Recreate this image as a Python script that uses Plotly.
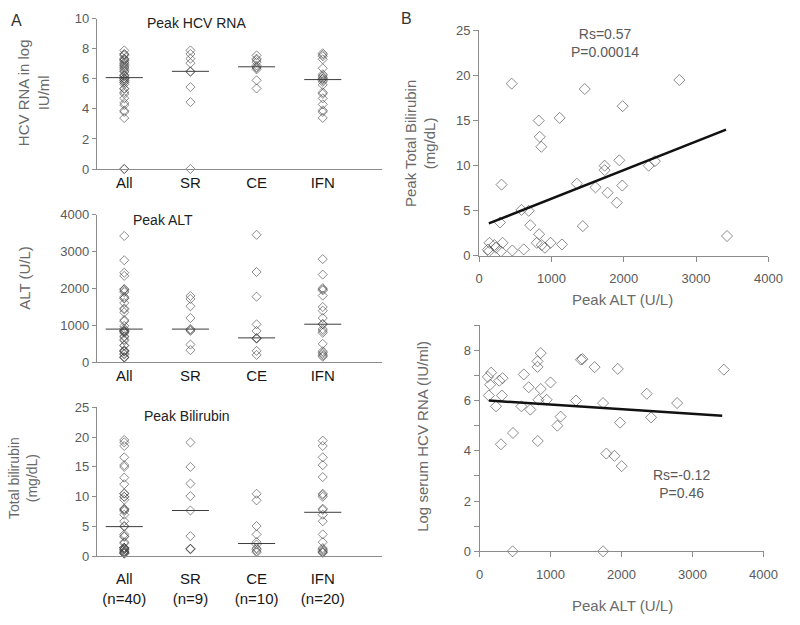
import plotly.graph_objects as go

W, H = 800, 625
def px(x): return x / W
def py(y): return 1 - y / H

FONT = "Liberation Sans, Arial, sans-serif"
GRAY_TXT = "#5a5a5a"
TITLE_GRAY = "#6a6a6a"
AXIS_COL = "#8c8c8c"
MARK_COL = "rgba(70,70,70,0.62)"

# ---------------- data ----------------
groups = ["All", "SR", "CE", "IFN"]
groups_n = ["All<br>(n=40)", "SR<br>(n=9)", "CE<br>(n=10)", "IFN<br>(n=20)"]
cat_pos = [0, 1, 2, 3]

# Panel B (top): Peak ALT vs Peak Total Bilirubin
alt_b1 = [451, 1461, 2769, 1985, 1114, 825, 839, 861, 1736, 1736, 1939, 2345, 2431,
          311, 1353, 1610, 1980, 1777, 1903, 586, 686, 289, 708, 1434, 830, 3428,
          798, 988, 1146, 866, 911, 618, 460, 325, 302, 144, 212, 122, 135, 234]
bili_b1 = [19.1, 18.5, 19.5, 16.6, 15.3, 15.0, 13.2, 12.1, 10.0, 9.5, 10.6, 10.0, 10.5,
           7.9, 8.0, 7.6, 7.8, 7.0, 5.9, 5.1, 5.0, 3.7, 3.4, 3.3, 2.4, 2.2,
           1.45, 1.45, 1.27, 1.2, 0.9, 0.72, 0.6, 1.45, 0.5, 1.45, 1.2, 0.7, 0.5, 0.9]
fit1_x = [135, 3414]
fit1_y = [3.6, 14.0]

# Panel B (bottom): Peak ALT vs log serum HCV RNA
alt_b2 = [862, 816, 816, 1450, 1427, 1620, 1947, 3441, 163, 117, 324, 278, 623, 149,
          1000, 692, 862, 131, 315, 2356, 830, 945, 1358, 1740, 2783, 232, 590, 715,
          1142, 2416, 1979, 1096, 471, 301, 820, 1786, 1900, 2002, 466, 1740]
hcv_b2 = [7.89, 7.56, 7.34, 7.65, 7.63, 7.33, 7.26, 7.23, 7.11, 6.94, 6.89, 6.79, 7.04, 6.63,
          6.72, 6.53, 6.46, 6.2, 6.2, 6.27, 6.03, 6.03, 6.0, 5.9, 5.9, 5.77, 5.77, 5.64,
          5.36, 5.33, 5.12, 5.0, 4.71, 4.26, 4.39, 3.89, 3.8, 3.39, 0.0, 0.0]
fit2_x = [131, 3418]
fit2_y = [6.0, 5.4]

# Panel A: Peak HCV RNA by group
hcv_all = hcv_b2
hcv_sr = [7.89, 7.65, 7.34, 7.04, 6.5, 6.46, 5.45, 4.45, 0.0]
hcv_ce = [7.56, 7.34, 7.26, 7.11, 6.89, 6.79, 6.72, 6.63, 5.9, 5.36]
hcv_ifn = [7.7, 7.6, 7.5, 7.3, 6.7, 6.3, 6.2, 6.1, 6.0, 6.0, 5.9, 5.8, 5.6, 5.1, 5.0,
           4.7, 4.3, 3.9, 3.8, 3.4]
hcv_median = [6.08, 6.5, 6.8, 5.95]

# Panel A: Peak ALT by group
alt_all = alt_b1
alt_sr = [1800, 1720, 1520, 1200, 900, 880, 850, 480, 330]
alt_ce = [3460, 2450, 1780, 1030, 850, 660, 650, 640, 310, 200]
alt_ifn = [2800, 2380, 2010, 1980, 1950, 1810, 1500, 1400, 1200, 1040, 1030, 900, 850,
           800, 500, 300, 260, 220, 180, 150]
alt_median = [900, 900, 662, 1033]

# Panel A: Peak Bilirubin by group
bili_all = bili_b1
bili_sr = [19.1, 15.0, 12.2, 10.1, 7.7, 3.4, 1.3, 1.3, 1.2]
bili_ce = [10.5, 9.4, 5.1, 3.7, 2.4, 2.0, 1.4, 1.2, 0.9, 0.7]
bili_ifn = [19.4, 18.5, 16.6, 15.3, 13.3, 10.5, 10.3, 10.0, 8.0, 7.8, 7.0, 5.9, 3.7,
            2.4, 1.4, 1.2, 1.0, 0.8, 0.7, 0.6]
bili_median = [5.0, 7.7, 2.17, 7.4]

# ---------------- figure ----------------
fig = go.Figure()

def add_strip(values_by_group, medians, xa, ya):
    for pos, vals in zip(cat_pos, values_by_group):
        fig.add_trace(go.Scatter(
            x=[pos] * len(vals), y=vals, mode="markers", xaxis=xa, yaxis=ya,
            marker=dict(symbol="diamond-open", size=7, color=MARK_COL,
                        line=dict(width=1, color=MARK_COL)),
            cliponaxis=False, showlegend=False, hoverinfo="y"))
    hx, hy = [], []
    for pos, m in zip(cat_pos, medians):
        hx += [pos - 0.28, pos + 0.28, None]
        hy += [m, m, None]
    fig.add_trace(go.Scatter(x=hx, y=hy, mode="lines", xaxis=xa, yaxis=ya,
                             line=dict(color="#3c3c3c", width=1),
                             showlegend=False, hoverinfo="skip", cliponaxis=False))

add_strip([hcv_all, hcv_sr, hcv_ce, hcv_ifn], hcv_median, "x", "y")
add_strip([alt_all, alt_sr, alt_ce, alt_ifn], alt_median, "x2", "y2")
add_strip([bili_all, bili_sr, bili_ce, bili_ifn], bili_median, "x3", "y3")

def add_scatter(xv, yv, fx, fy, xa, ya):
    fig.add_trace(go.Scatter(
        x=xv, y=yv, mode="markers", xaxis=xa, yaxis=ya,
        marker=dict(symbol="diamond-open", size=8.5, color=MARK_COL,
                    line=dict(width=1, color=MARK_COL)),
        cliponaxis=False, showlegend=False))
    fig.add_trace(go.Scatter(x=fx, y=fy, mode="lines", xaxis=xa, yaxis=ya,
                             line=dict(color="#111111", width=2.5),
                             showlegend=False, hoverinfo="skip"))

add_scatter(alt_b1, bili_b1, fit1_x, fit1_y, "x4", "y4")
add_scatter(alt_b2, hcv_b2, fit2_x, fit2_y, "x5", "y5")

tickfont = dict(family=FONT, size=13, color=GRAY_TXT)
catfont = dict(family=FONT, size=15, color="#161616")

def yax(dom, rng, dtick, anchor, tickvals=None, ticktext=None, ticklen=4):
    d = dict(domain=dom, range=rng, anchor=anchor, showline=True, linecolor=AXIS_COL,
             linewidth=1, ticks="outside", ticklen=ticklen, tickcolor=AXIS_COL,
             showgrid=False, zeroline=False, tickfont=tickfont, fixedrange=True)
    if tickvals is not None:
        d.update(tickmode="array", tickvals=tickvals, ticktext=ticktext)
    else:
        d.update(dtick=dtick, tick0=0)
    return d

def xcat(dom, anchor, labels, standoff=0):
    return dict(domain=dom, range=[-0.414, 3.9], anchor=anchor, showline=True,
                linecolor=AXIS_COL, linewidth=1, ticks="", showgrid=False,
                zeroline=False, tickmode="array", tickvals=cat_pos, ticktext=labels,
                tickfont=catfont, ticklabelstandoff=standoff, fixedrange=True)

def xnum(dom, anchor):
    return dict(domain=dom, range=[0, 4000], anchor=anchor, showline=True,
                linecolor=AXIS_COL, linewidth=1, ticks="outside", ticklen=5,
                tickcolor=AXIS_COL, showgrid=False, zeroline=False, dtick=1000,
                tick0=0, tickfont=tickfont, ticklabelstandoff=6, fixedrange=True)

xA = [px(95), px(387)]
fig.update_layout(
    width=W, height=H, margin=dict(l=0, r=0, t=0, b=0),
    paper_bgcolor="white", plot_bgcolor="white", showlegend=False,
    font=dict(family=FONT, color=GRAY_TXT),
    xaxis=xcat(xA, "y", groups),
    yaxis=yax([py(166), py(12)], [0, 10], 2, "x"),
    xaxis2=xcat(xA, "y2", groups),
    yaxis2=yax([py(364), py(213)], [0, 4000], 1000, "x2"),
    xaxis3=xcat(xA, "y3", groups_n, standoff=9),
    yaxis3=yax([py(563), py(410)], [0, 25], 5, "x3"),
    xaxis4=xnum([px(486), px(782)], "y4"),
    yaxis4=yax([py(255), py(24)], [0, 25], 5, "x4", ticklen=5),
    xaxis5=xnum([px(486.5), px(777)], "y5"),
    yaxis5=yax([py(557.7), py(326)], [0, 9], 1, "x5",
               tickvals=list(range(10)),
               ticktext=["0", "", "2", "", "4", "", "6", "", "8", ""], ticklen=5),
)

def ann(text, x, y, size=14, color=GRAY_TXT, angle=0, xanchor="center"):
    fig.add_annotation(text=text, x=px(x), y=py(y), xref="paper", yref="paper",
                       showarrow=False, textangle=angle, xanchor=xanchor,
                       yanchor="middle", font=dict(family=FONT, size=size, color=color))

# panel letters
ann("A", 13, 14, size=16, color="#333333")
ann("B", 412, 12, size=16, color="#333333")

# panel A titles
ann("Peak HCV RNA", 197, 16, size=14, color="#222222")
ann("Peak ALT", 163, 218, size=14, color="#222222")
ann("Peak Bilirubin", 187, 419, size=14, color="#222222")

# panel A axis titles
ann("HCV RNA in log<br>IU/ml", 31, 88, size=15, color=TITLE_GRAY, angle=-90)
ann("ALT (U/L)", 21, 278, size=15, color=TITLE_GRAY, angle=-90)
ann("Total bilirubin<br>(mg/dL)", 20, 483, size=14, color=TITLE_GRAY, angle=-90)

# panel B axis titles
ann("Peak Total Bilirubin<br>(mg/dL)", 426, 140, size=15, color=TITLE_GRAY, angle=-90)
ann("Peak ALT (U/L)", 633, 300, size=15, color=TITLE_GRAY)
ann("Log serum HCV RNA (IU/ml)", 428, 440, size=15, color=TITLE_GRAY, angle=-90)
ann("Peak ALT (U/L)", 633, 613, size=15, color=TITLE_GRAY)

# stats
ann("Rs=0.57<br>P=0.00014", 615, 37, size=14)
ann("Rs=-0.12<br>P=0.46", 693, 489, size=14)

# pin the 800x625 figure to the window's top-left corner so nothing scrolls
pin_js = ("var d=document.getElementById('{plot_id}');"
          "d.style.position='fixed';d.style.left='0px';d.style.top='0px';"
          "document.body.style.margin='0';document.body.style.overflow='hidden';"
          "document.documentElement.style.overflow='hidden';")
fig.write_html("out.html", post_script=pin_js,
               config={"displayModeBar": False})
